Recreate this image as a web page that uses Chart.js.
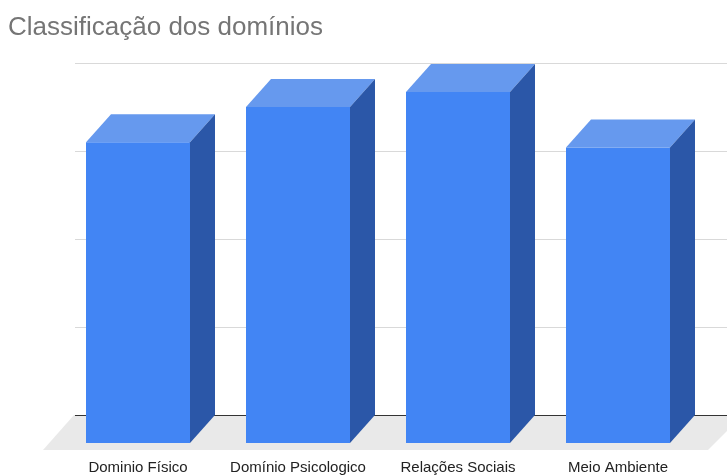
<!DOCTYPE html>
<html>
<head>
<meta charset="utf-8">
<title>Classificação dos domínios</title>
<script src="https://cdn.jsdelivr.net/npm/chart.js@4.4.1/dist/chart.umd.min.js"></script>
<style>
    html, body { margin: 0; padding: 0; background: #fff; }
    #wrap { width: 727px; height: 476px; }
</style>
</head>
<body>
<div id="wrap"><canvas id="grafico"></canvas></div>
<script>

const categorias = ["Dominio Físico", "Domínio Psicologico", "Relações Sociais", "Meio Ambiente"];
const valores = [3.42, 3.82, 3.99, 3.36];
const eixoMin = 0;
const eixoMax = 4;
const eixoPasso = 1;

// profundidade das caixas (px)
const prof = { dx: 25, dy: 28 };

const cores = {
    frente: "#4285f4",
    topo: "#6699ee",
    lado: "#2b57a8",
    grade: "#d9d9d9",
    base: "#333333",
    chao: "#e9e9e9"
};

const barras3d = {
    id: "barras3d",
    beforeDatasetsDraw(chart)
    {
        const {ctx, chartArea: a, scales: {y}} = chart;
        const base = y.getPixelForValue(eixoMin);

        ctx.save();

        // chao
        ctx.fillStyle = cores.chao;
        ctx.beginPath();
        ctx.moveTo(a.left - 15, base + 7);
        ctx.lineTo(a.right + 10, base + 7);
        ctx.lineTo(a.right + 45, base - prof.dy);
        ctx.lineTo(a.left + 16, base - prof.dy);
        ctx.closePath();
        ctx.fill();

        // linhas de grade no plano de fundo
        ctx.lineWidth = 1;
        y.ticks.forEach(t => {
            const py = Math.round(y.getPixelForValue(t.value) - prof.dy) + 0.5;
            ctx.strokeStyle = t.value === eixoMin ? cores.base : cores.grade;
            ctx.beginPath();
            ctx.moveTo(a.left + 17, py);
            ctx.lineTo(chart.width, py);
            ctx.stroke();
        });

        ctx.restore();
    },
    afterDatasetsDraw(chart)
    {
        const ctx = chart.ctx;
        const meta = chart.getDatasetMeta(0);

        ctx.save();
        meta.data.forEach(bar => {
            const {x, y, base, width} = bar.getProps(["x", "y", "base", "width"], true);
            const esq = x - width / 2;
            const dir = x + width / 2;

            // topo
            ctx.fillStyle = cores.topo;
            ctx.beginPath();
            ctx.moveTo(esq, y);
            ctx.lineTo(dir, y);
            ctx.lineTo(dir + prof.dx, y - prof.dy);
            ctx.lineTo(esq + prof.dx, y - prof.dy);
            ctx.closePath();
            ctx.fill();

            // lateral
            ctx.fillStyle = cores.lado;
            ctx.beginPath();
            ctx.moveTo(dir, y);
            ctx.lineTo(dir + prof.dx, y - prof.dy);
            ctx.lineTo(dir + prof.dx, base - prof.dy);
            ctx.lineTo(dir, base);
            ctx.closePath();
            ctx.fill();
        });
        ctx.restore();
    }
};

const fonte = "'Liberation Sans', Arial, sans-serif";

new Chart(document.getElementById("grafico"), {
    type: "bar",
    data: {
        labels: categorias,
        datasets: [{
            data: valores,
            backgroundColor: cores.frente,
            borderWidth: 0,
            barPercentage: 0.65,
            categoryPercentage: 1
        }]
    },
    options: {
        responsive: true,
        maintainAspectRatio: false,
        animation: false,
        layout: { padding: { left: 8, right: 29, top: 0, bottom: 0 } },
        plugins: {
            legend: { display: false },
            tooltip: { enabled: false },
            title: {
                display: true,
                text: "Classificação dos domínios",
                align: "start",
                color: "#757575",
                font: { family: fonte, size: 26, weight: "normal" },
                padding: { top: 12, bottom: 48 }
            }
        },
        scales: {
            x: {
                grid: { display: false, drawTicks: false },
                border: { display: false },
                ticks: {
                    color: "#222222",
                    padding: 16,
                    maxRotation: 0,
                    font: { family: fonte, size: 15 }
                },
                afterFit(scale) { scale.height = 33; }
            },
            y: {
                min: eixoMin,
                max: eixoMax,
                grid: { display: false, drawTicks: false },
                border: { display: false },
                ticks: { display: false, stepSize: eixoPasso },
                afterFit(scale) { scale.width = 50; }
            }
        }
    },
    plugins: [barras3d]
});
</script>
</body>
</html>
